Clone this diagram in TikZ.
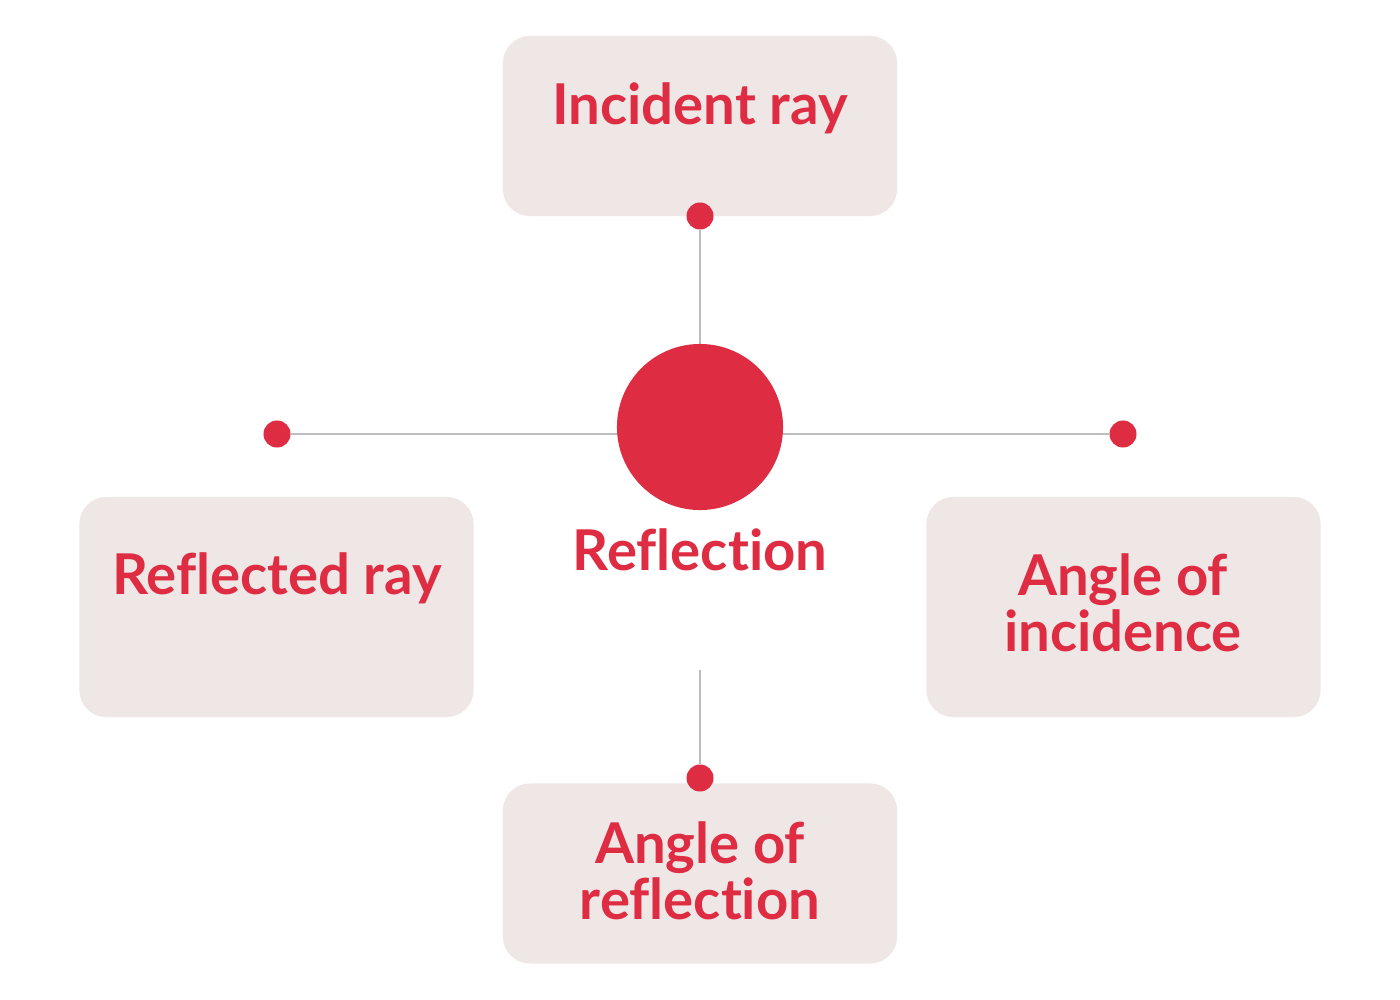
\documentclass[tikz,border=0pt]{standalone}
\usepackage{fontspec}
\setmainfont{Lato}[Ligatures=NoCommon]
\definecolor{rred}{HTML}{DE2D42}
\definecolor{boxgray}{HTML}{EFE7E6}
\definecolor{linegray}{HTML}{BDBDBD}
\tikzset{
  topicbox/.style={fill=boxgray, rounded corners=0.27cm, minimum width=3.94cm,
    minimum height=1.8cm, inner sep=0pt},
  sidebox/.style={topicbox, minimum height=2.2cm},
  topictext/.style={text=rred, font=\fontsize{16}{14.4}\selectfont\bfseries,
    align=center, inner sep=0pt},
  dotend/.style={circle, fill=rred, inner sep=0pt, minimum size=0.27cm},
  link/.style={draw=linegray, line width=0.6pt}
}
\begin{document}
\begin{tikzpicture}[x=0.01cm, y=-0.01cm]
    \path[use as bounding box, fill=white] (0, 0) rectangle (1400, 1000);

    % Boxes
    \node [topicbox] (boxtop) at (700, 126) {};
    \node [sidebox] (boxleft) at (276.5, 607) {};
    \node [sidebox] (boxright) at (1123.5, 607) {};
    \node [topicbox] (boxbottom) at (700, 873.5) {};

    % Texts
    \node [topictext] (incident) at (700, 108) {Incident ray};
    \node [topictext] (reflected) at (277, 578) {Reflected ray};
    \node [topictext] (incidence) at (1123, 603) {Angle of\\incidence};
    \node [topictext] (reflangle) at (700, 871) {Angle of\\reflection};

    % Centre
    \node [topictext] (reflection) at (700, 550) {Reflection};

    % Connections
    \node [dotend] (dtop) at (700, 216) {};
    \node [dotend] (dleft) at (277, 434) {};
    \node [dotend] (dright) at (1123, 434) {};
    \node [dotend] (dbottom) at (700, 778) {};
    \coordinate (cbottom) at (700, 670);
    \coordinate (ctop) at (700, 345);

    \draw [link] (dtop) -- (ctop);
    \draw [link] (dleft) -- (dright);
    \draw [link] (cbottom) -- (dbottom);
    \node [circle, fill=rred, inner sep=0pt, minimum size=1.66cm] (hub) at (700, 427) {};
\end{tikzpicture}
\end{document}
